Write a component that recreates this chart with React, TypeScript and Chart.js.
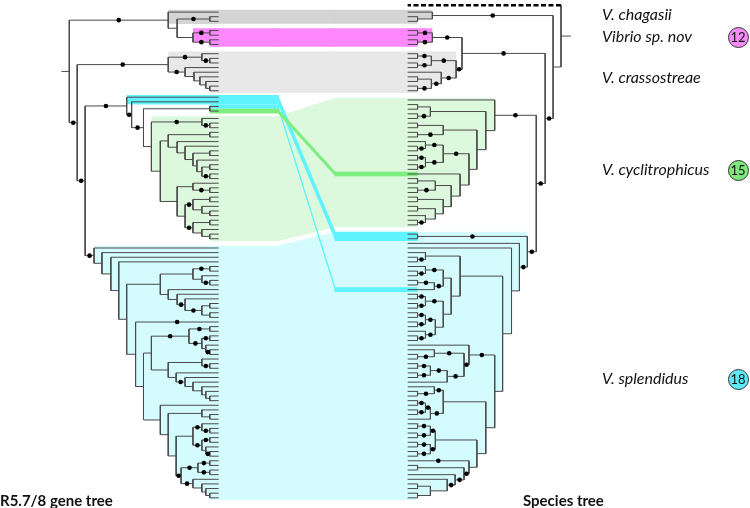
import React, { useEffect, useRef } from "react";
import { Chart, registerables } from "chart.js";

Chart.register(...registerables);

// ================= DATA =================
// Leaf groups (top to bottom) and the blank rows before each group
const leftGroupSizes = [3, 4, 9, 3, 1, 27, 55];
const leftGroupGaps = [0, 1, 1, 0.4, 0, 0.6, 1];
const rightGroupSizes = [1, 3, 4, 9, 28, 58];
const rightGroupGaps = [0, 0.5, 1, 1, 1, 1];
const rightFirstRow = -1.5;

// Trees: "(a,b)X" = node at depth X, "o" = leaf, "x" = truncated outgroup, "*" = supported branch
const L_CHAG = "(o,((o,o)208*,((o,o)208*,(o,o)208*)191)175)166";
const L_CRASS = "((o,(o,o)208*)200*,(o,(o,(o,(o,(o,o)208)204)198)192)183*)166";
const L_GREEN_MID = "((o,o)208,(o,(o,((o,o)208,(o,((o,o)208,(o,o)208*)200)195)191)183)175)166";
const L_GREEN_BOT = "((o,(o,o)208*)191,(((o,o)208,(o,(o,o)208)200)191*,((o,o)208,(o,(o,o)208)200)191*)183)175";
const L_GREEN = "((o,(o,o)208*)200*,(" + L_GREEN_MID + "," + L_GREEN_BOT + ")158)149";
const L_CYANGREEN = "(o,(o,((o,o)208," + L_GREEN + ")141*)129*)124";
const L_S158 = "(((o,o)208*,(o,(o,o)208*)200)191,(o,(o,(o,((o,o)208,(o,o)208)200*)183*)175)166)158";
const L_S183a = "((o,o)208*,((o,o)208*,(o,(o,o)208*)204)200*)187*";
const L_S166a = "((o,(o,o)208*)200,(o,(o,(o,(o,(o,(o,o)208)204)200)191)183*)174)166";
const L_S191b = "((o,(o,o)208*)200*,((o,o)208*,(o,(o,o)208*)204)200*)191";
const L_S183b = "(((o,o)208*,(o,o)208*)196*,(o,(o,(o,(o,o)208)204)200)191*)179*";
const L_S158b = "(o,((o,(o,o)208)200,(" + L_S191b + "," + L_S183b + ")174)166)158";
const L_S141 = "((" + L_S183a + "," + L_S166a + ")149," + L_S158b + ")141";
const L_SPL = "(o,(o,(o,(o,(" + L_S158 + ",(o*," + L_S141 + ")133)124)116)108)99)91";
const LEFT_TREE = "(" + L_CHAG + "*,(" + L_CRASS + "*,(" + L_CYANGREEN + "*," + L_SPL + "*)82*)74*)66";

const R_CHAG = "(o,(o,o)418)433";
const R_PINK = "((o,o)418*,(o,o)418*)433";
const R_CRASS = "(((o,o)418*,(o,o)418*)432*,(o,((o,o)418,(o,o)418*)432*)442*)457";
const R_G436 = "((o,o)418,(o,(o,o)418*)426)436";
const R_G452 = "(((o,o)418,(o,o)418*)436,((o,o)418," + R_G436 + ")444)452";
const R_G470 = "(((o,(o,o)418*)426*,((o,o)418*,(o,o)418*)426*)444*,(o," + R_G452 + ")461)470";
const R_GREEN = "(o,(((o,o)418,(o,o)418*)431,(((o,o)418,(o,o)418*)444," + R_G470 + ")478)487)496";
const R_C452 = "(((o,(o,o)418*)426*,((o,o)418*,o)435*)444,(((o,o)418*,(o,o)418*)426*,(((o,o)418*,(o,o)418*)426*,(o,(o,o)418*)426*)436)444)452";
const R_C461 = "((o,(o,o)418*)426," + R_C452 + ")461";
const R_C470 = "(o,((o,(o,o)418*)435*,(((o,o)418*,(o,o)418*)431*,o)448*)465*)470";
const R_C478 = "((((o,o)418*,(o,o)418*)431*,((o,o)418*,(o,o)418*)431*)436,(o*,((o,o)418,(o,(o,((o,o)418,(o,o)418)431)448*)456*)465*)470)478";
const R_C487 = "(((o,(o,o)418*)435*,(((o,o)418*,(o,o)418*)426*,o)431*)444," + R_C478 + ")487";
const R_CYAN = "((o,o)418*,(o,(o,(" + R_C461 + ",(" + R_C470 + "*," + R_C487 + ")496)504)513)521*)529";
const RIGHT_TREE = "(x,(" + R_CHAG + "*,((" + R_PINK + "*," + R_CRASS + "*)463*,(" + R_GREEN + "*," + R_CYAN + "*)538*)547*)555)563";

// Clades (leaf index ranges in each tree)
const cladeKeys = ["chagasii", "spnov", "crassostreae", "cyclitrophicus", "splendidus"];
const leftCladeFrom = [0, 3, 7, 20, 47];
const leftCladeTo = [2, 6, 15, 46, 101];
const rightCladeFrom = [1, 4, 8, 17, 45];
const rightCladeTo = [3, 7, 16, 44, 102];

// Transferred genes (left leaves -> right leaves)
const transferLeftFrom = [16, 18, 19];
const transferLeftTo = [17, 18, 19];
const transferRightFrom = [45, 57, 33];
const transferRightTo = [46, 57, 33];
const transferClade = ["splendidus", "splendidus", "cyclitrophicus"];

const speciesNames = ["V. chagasii", "Vibrio sp. nov", "V. crassostreae", "V. cyclitrophicus", "V. splendidus"];
const speciesCounts = [null, 12, null, 15, 18];
const leftTitle = "R5.7/8 gene tree";
const rightTitle = "Species tree";

// ================= STYLE / LAYOUT =================
const W = 750, H = 508;
const ROW_TOP = 8.2, ROW_STEP = 4.7;
const LEFT_TIP = 217, RIGHT_TIP = 408, LEFT_STUB = 58, RIGHT_STUB = 573;
const BEND_L = 277, BEND_R = 335, CHERRY = 10;
const LIGHT: Record<string, string> = {
  chagasii: "#d4d4d4",
  spnov: "#ff88ff",
  crassostreae: "#e8e8e8",
  cyclitrophicus: "#ddf9dd",
  splendidus: "#d4fcfe",
};
const BRIGHT: Record<string, string> = { cyclitrophicus: "#7eee7e", splendidus: "#5ff3fd" };
const BADGE: Record<string, string> = { spnov: "#f58cf5", cyclitrophicus: "#7ee77e", splendidus: "#5ee9f6" };
const LINE = "#4a4a4a";
const LABEL_Y = [14, 36, 77, 169, 378];

type TNode = {
  children: TNode[]; x: number; y: number; dot: boolean; leaf: boolean;
  dashed: boolean; lo: number; hi: number; px: number;
};

function parseTree(s: string): TNode {
  let i = 0;
  const num = () => {
    const j = i;
    while (i < s.length && /[0-9.]/.test(s[i])) i++;
    return parseFloat(s.slice(j, i));
  };
  const node = (): TNode => {
    if (s[i] === "(") {
      i++;
      const children = [node()];
      while (s[i] === ",") { i++; children.push(node()); }
      i++;
      const x = num();
      let dot = false;
      if (s[i] === "*") { dot = true; i++; }
      return { children, x, y: 0, dot, leaf: false, dashed: false, lo: 0, hi: 0, px: 0 };
    }
    const c = s[i];
    i++;
    let dot = false;
    if (s[i] === "*") { dot = true; i++; }
    return { children: [], x: NaN, y: 0, dot, leaf: true, dashed: c === "x", lo: 0, hi: 0, px: 0 };
  };
  return node();
}

function rowsFrom(sizes: number[], gaps: number[], start: number) {
  const rows: number[] = [];
  let r = start;
  sizes.forEach((n, g) => {
    r += gaps[g];
    for (let j = 0; j < n; j++) { rows.push(r); r++; }
  });
  return rows;
}

function layoutTree(root: TNode, tip: number, rows: number[]) {
  const leaves: TNode[] = [];
  const walk = (n: TNode, parent: TNode | null) => {
    n.px = parent ? parent.x : n.x;
    if (n.leaf) {
      n.x = tip; n.y = rows[leaves.length]; n.lo = n.hi = leaves.length; leaves.push(n);
      return;
    }
    n.children.forEach((c) => walk(c, n));
    const f = n.children[0], l = n.children[n.children.length - 1];
    n.y = (f.y + l.y) / 2; n.lo = f.lo; n.hi = l.hi;
  };
  walk(root, null);
  return leaves;
}

const gap = () => ({ x: NaN, y: NaN });

function treeGeometry(root: TNode, stub: number) {
  const solid: any[] = [], dashed: any[] = [], dots: any[] = [];
  const seg = (arr: any[], x1: number, y1: number, x2: number, y2: number) => {
    arr.push({ x: x1, y: y1 }, { x: x2, y: y2 }, gap());
  };
  seg(solid, stub, root.y, root.x, root.y);
  const walk = (n: TNode) => {
    if (n.leaf) return;
    const f = n.children[0], l = n.children[n.children.length - 1];
    seg(solid, n.x, f.y, n.x, l.y);
    n.children.forEach((c) => {
      seg(c.dashed ? dashed : solid, n.x, c.y, c.x, c.y);
      if (c.dot) dots.push({ x: (n.x + c.x) / 2, y: c.y });
      walk(c);
    });
  };
  walk(root);
  return { solid, dashed, dots };
}

function findLca(n: TNode, lo: number, hi: number): TNode {
  for (const c of n.children) if (c.lo <= lo && c.hi >= hi) return findLca(c, lo, hi);
  return n;
}

function cladeRects(root: TNode, lo: number, hi: number, rows: number[], tip: number) {
  const out: number[][] = [];
  const walk = (n: TNode) => {
    if (n.leaf) return;
    const a = Math.max(n.lo, lo), b = Math.min(n.hi, hi);
    if (a > b) return;
    const last = n.children[n.children.length - 1];
    const top = rows[a] - 0.5;
    const bottom = Math.min(rows[b] + 0.5, last.leaf ? last.y + 0.5 : last.y);
    if (bottom > top) out.push([Math.min(n.x, tip), Math.max(n.x, tip), top, bottom]);
    n.children.forEach(walk);
  };
  walk(findLca(root, lo, hi));
  return out;
}

function addRect(arr: any[], x0: number, x1: number, y0: number, y1: number) {
  arr.push({ x: x0, y: y0 }, { x: x0, y: y1 }, { x: x1, y: y1 }, { x: x1, y: y0 }, gap());
}
// band = left strip, sloped section, right strip (pieces overlap by one unit to avoid seams)
function addBand(arr: any[], lT: number, lB: number, rT: number, rB: number, xL: number, xR: number) {
  addRect(arr, xL, BEND_L + 1, lT, lB);
  arr.push({ x: BEND_L, y: lB }, { x: BEND_L, y: lT }, { x: BEND_R, y: rT }, { x: BEND_R, y: rB }, gap());
  addRect(arr, BEND_R - 1, xR, rT, rB);
}

export default function App() {
  const ref = useRef<HTMLCanvasElement>(null);

  useEffect(() => {
    document.body.style.margin = "0";
    const lRows = rowsFrom(leftGroupSizes, leftGroupGaps, 0);
    const rRows = rowsFrom(rightGroupSizes, rightGroupGaps, rightFirstRow);
    const L = parseTree(LEFT_TREE);
    const R = parseTree(RIGHT_TREE);
    const lLeaves = layoutTree(L, LEFT_TIP, lRows);
    const rLeaves = layoutTree(R, RIGHT_TIP, rRows);

    const light: Record<string, any[]> = {};
    cladeKeys.forEach((k, c) => {
      const arr: any[] = [];
      addBand(arr, lRows[leftCladeFrom[c]] - 0.5, lRows[leftCladeTo[c]] + 0.5,
        rRows[rightCladeFrom[c]] - 0.5, rRows[rightCladeTo[c]] + 0.5, LEFT_TIP - 1, RIGHT_TIP + 1);
      cladeRects(L, leftCladeFrom[c], leftCladeTo[c], lRows, LEFT_TIP).forEach((r) => addRect(arr, r[0], r[1], r[2], r[3]));
      cladeRects(R, rightCladeFrom[c], rightCladeTo[c], rRows, RIGHT_TIP).forEach((r) => addRect(arr, r[0], r[1], r[2], r[3]));
      light[k] = arr;
    });

    const bright: Record<string, any[]> = { cyclitrophicus: [], splendidus: [] };
    transferClade.forEach((k, t) => {
      const arr = bright[k];
      const lf = transferLeftFrom[t], lt = transferLeftTo[t], rf = transferRightFrom[t], rt = transferRightTo[t];
      const xL = Math.max(lLeaves[lf].px, LEFT_TIP - CHERRY);
      const xR = Math.min(rLeaves[rt].px, RIGHT_TIP + CHERRY);
      addBand(arr, lRows[lf] - 0.5, lRows[lt] + 0.5, rRows[rf] - 0.5, rRows[rt] + 0.5, xL, xR);
      cladeRects(L, lf, lt, lRows, LEFT_TIP).forEach((r) => addRect(arr, r[0], r[1], r[2], r[3]));
    });

    const gl = treeGeometry(L, LEFT_STUB);
    const gr = treeGeometry(R, RIGHT_STUB);

    const fillDs = (data: any[], color: string, order: number) => ({
      type: "line", data, fill: "shape", backgroundColor: color, borderColor: "rgba(0,0,0,0)",
      borderWidth: 0, pointRadius: 0, order,
    });

    const datasets: any[] = [];
    cladeKeys.forEach((k) => datasets.push(fillDs(light[k], LIGHT[k], 10)));
    Object.keys(bright).forEach((k) => datasets.push(fillDs(bright[k], BRIGHT[k], 6)));
    datasets.push({
      type: "line", data: [...gl.solid, ...gr.solid], borderColor: LINE, borderWidth: 1,
      pointRadius: 0, fill: false, order: 3,
    });
    datasets.push({
      type: "line", data: [...gl.dashed, ...gr.dashed], borderColor: "#000", borderWidth: 2.5,
      borderDash: [5, 2.5], pointRadius: 0, fill: false, order: 2,
    });
    datasets.push({
      type: "line", data: [...gl.dots, ...gr.dots], showLine: false, pointRadius: 2.3,
      pointBackgroundColor: "#000", pointBorderWidth: 0, order: 1,
    });

    const yMin = -ROW_TOP / ROW_STEP;
    const chart = new Chart(ref.current as HTMLCanvasElement, {
      type: "line",
      data: { datasets },
      options: {
        animation: false,
        responsive: false,
        maintainAspectRatio: false,
        events: [],
        layout: { padding: 0 },
        plugins: { legend: { display: false }, tooltip: { enabled: false } },
        scales: {
          x: { type: "linear", display: false, min: 0, max: W, bounds: "data" },
          y: { type: "linear", display: false, min: yMin, max: yMin + H / ROW_STEP, reverse: true, bounds: "data" },
        },
      },
    } as any);
    return () => chart.destroy();
  }, []);

  const font = "Lato, 'Open Sans', sans-serif";
  return (
    <div style={{ position: "relative", width: W, height: H, fontFamily: font, color: "#111" }}>
      <canvas ref={ref} width={W} height={H} style={{ position: "absolute", left: 0, top: 0, width: W, height: H }} />
      {speciesNames.map((s, i) => (
        <div key={s} style={{
          position: "absolute", left: 602, top: LABEL_Y[i] - 11, height: 22, lineHeight: "22px",
          fontSize: 16, fontStyle: "italic", whiteSpace: "nowrap",
        }}>{s}</div>
      ))}
      {speciesCounts.map((n, i) => n === null ? null : (
        <div key={"b" + i} style={{
          position: "absolute", left: 738 - 10.5, top: LABEL_Y[i] + 1 - 10.5, width: 21, height: 21,
          borderRadius: "50%", border: "1px solid #333", boxSizing: "border-box",
          background: BADGE[cladeKeys[i]], display: "flex", alignItems: "center", justifyContent: "center",
          fontSize: 13, lineHeight: "13px",
        }}>{n}</div>
      ))}
      <div style={{ position: "absolute", left: 0, top: 490, fontSize: 15, fontWeight: 700, whiteSpace: "nowrap", lineHeight: "20px" }}>{leftTitle}</div>
      <div style={{ position: "absolute", left: 523, top: 490, fontSize: 15, fontWeight: 700, whiteSpace: "nowrap", lineHeight: "20px" }}>{rightTitle}</div>
    </div>
  );
}
